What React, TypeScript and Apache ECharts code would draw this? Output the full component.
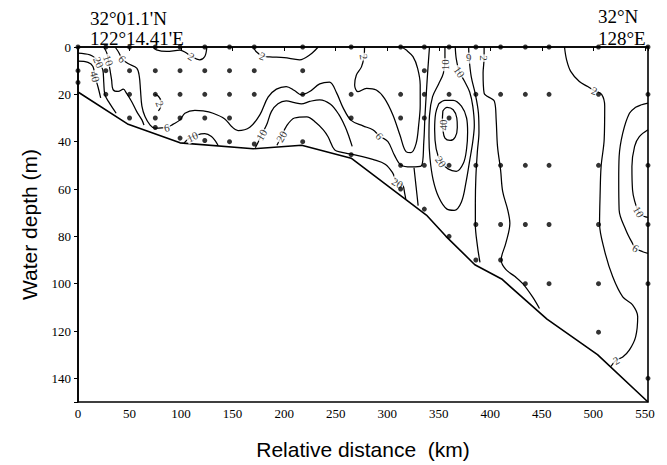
import React, { useEffect, useRef } from "react";
import * as echarts from "echarts";

// ---- axis extents / tick labels ----
const X_MAX = 553;
const Y_MAX = 150;
const xTickLabels = ["0", "50", "100", "150", "200", "250", "300", "350", "400", "450", "500", "550"];
const yTickLabels = ["0", "20", "40", "60", "80", "100", "120", "140"];

// ---- annotations ----
const westNote = ["32°01.1'N", "122°14.41'E"];
const eastNote = ["32°N", "128°E"];

// ---- sampling stations (km) and sample depths (m) ----
const stationKm = [0, 27, 50, 75, 99, 123, 147, 171, 218, 265, 313, 336, 360, 386, 410, 434, 457, 505, 553];
const stationDepths = [
  [0, 10, 15],
  [0, 10, 20],
  [0, 10, 20, 30],
  [0, 10, 20, 30, 34],
  [0, 10, 20, 30, 38.5],
  [0, 10, 20, 30, 39.5],
  [0, 10, 20, 30, 40],
  [0, 10, 20, 41],
  [0, 10, 20, 40],
  [0, 20, 30, 45.5],
  [0, 20, 30, 50, 60],
  [0, 10, 20, 30, 50, 68.5],
  [0, 20, 30, 50, 80],
  [0, 20, 50, 75, 90],
  [0, 20, 50, 75, 90],
  [0, 20, 50, 75, 100],
  [0, 20, 50, 75, 100],
  [0, 20, 50, 75, 100, 120.5],
  [0, 20, 50, 75, 100, 140],
];

// ---- sea bed ----
const seabedKm = [0, 48, 99, 170, 217, 265, 338, 357, 385, 411, 455, 504, 553];
const seabedDepth = [19, 32.5, 40.5, 43, 41.5, 47, 71, 80, 92, 98, 115, 130, 150];

// ---- contour lines [km, depth] ----
const coast40 = [[0, 6], [9.7, 6.5], [14.5, 8.2], [16.5, 12.5], [19.5, 17], [22, 21.5]];
const coast20 = [[0, 2.6], [11.6, 3.3], [16.5, 4.6], [20, 6.5], [24, 9.6], [25, 15], [26, 20], [29.5, 23], [34, 26], [37, 28]];
const coast10 = [[25, 0], [28, 2.6], [29.5, 5.7], [31, 9.6], [32.6, 13.9], [34, 18], [39, 18.8], [44, 17.8], [47, 19.5], [52, 23], [57, 27.3], [62, 30.8], [64, 33]];
const long6 = [
  [36, 0], [39, 1.9], [43, 5], [48.5, 7], [57, 8.9], [59.5, 12.5], [60.6, 18], [62, 25], [65, 29.4], [70, 33],
  [74.6, 34.3], [86, 34], [92.4, 32.6], [99, 30.8], [103.7, 28], [113.4, 26.8], [121.4, 27], [131, 28],
  [142.4, 30.4], [149, 33.6], [155.3, 35.3], [166.7, 33.9], [176.4, 28.7], [184.4, 21.2], [192.5, 17.8],
  [202, 16.7], [210, 18.4], [216.7, 20.2], [224.8, 18.8], [234.5, 15.6], [244, 14.8], [251, 19.5],
  [257, 25.5], [265, 31], [276.5, 33.3], [286, 35], [292.6, 37.6], [300.7, 40], [307, 45.7], [313.6, 50],
  [323, 50.7], [333, 50.3], [335.5, 40], [336.5, 30.2], [338, 19], [339.5, 9], [341, 0],
];
const top2West = [[73, 0], [76, 1.2], [86, 1.9], [99, 1.3], [104, 2.2], [110, 4], [118, 5.4], [123, 4], [125, 0]];
const small2 = [[74.5, 20], [78, 20.8], [80.5, 23], [80, 25.5], [78, 27]];
const shelf10 = [[103, 40.5], [108, 38.5], [115, 37.2], [123, 36.6], [129.5, 37.8], [134, 40.2], [136, 41.7]];
const top2Mid = [[170, 0], [173, 2], [179, 3.8], [186, 4.2], [200, 4.5], [215, 5.4], [225, 3.3], [233, 0]];
const mid10 = [
  [172, 42.6], [175, 40], [178, 37.1], [183, 32.9], [187.6, 27.3], [194, 24], [202, 22.8], [210, 23.5],
  [216.7, 24], [224.8, 23], [234.5, 22.3], [245, 24.2], [253, 28.5], [259, 33.5], [263, 38], [266, 42],
];
const mid20 = [
  [193, 41.5], [197.4, 37.8], [202, 33.6], [210, 30], [222, 29.5], [231, 32], [238, 35], [242.6, 37.9],
  [249, 43.5], [256, 44.5], [265, 45.3], [276, 46.3], [286, 47.5], [298, 49.5], [305, 53], [310, 57.5],
  [315, 58.2], [317, 62], [318, 64.3],
];
const loop2 = [
  [278, 0], [277.5, 4.1], [275, 8.4], [270, 11.9], [268.4, 16.1], [271.6, 18.9], [280, 17.5], [289.4, 18.2],
  [297.5, 21.8], [305.6, 28.8], [312.4, 37.3], [318.5, 44.3], [323, 44.6], [328, 40.8], [330.5, 33],
  [332, 24.6], [332, 16], [329.5, 9], [325, 4.1], [318.5, 1.3], [313.6, 0],
];
const slope10 = [[326, 51], [328, 59], [330, 67]];
const eddy40 = [[354, 27], [358, 25.5], [364, 26.5], [367.5, 30], [368, 34], [366, 38], [361, 39.5], [356, 38.5], [354, 35], [353.5, 31], [354, 27]];
const eddy20 = [
  [350, 24], [356, 22.5], [364, 22.5], [372, 25], [377, 30], [378, 36], [377, 43], [374, 49], [367, 52.5],
  [359, 51.5], [352, 48.5], [347.5, 43], [346, 35], [347, 28], [350, 24],
];
const eddy10 = [
  [356, 0], [356, 5], [354.5, 11], [350, 15.5], [344, 21], [341, 29], [340.5, 38], [341.5, 47], [344.5, 56],
  [350, 63.5], [358, 68.5], [365, 69], [372, 65.5], [376.5, 57], [380, 48], [383, 40], [384.5, 33],
  [383, 25], [380, 19], [375, 14.5], [370, 10.5], [367, 5], [366, 0],
];
const eddy6 = [
  [379, 0], [379.5, 5], [381.5, 12.5], [385.5, 20], [388.5, 28], [389, 36], [387.5, 44], [386, 55],
  [385.5, 66], [385.5, 75], [387.5, 84], [390, 91],
];
const east2a = [
  [394, 0], [394, 4.7], [393, 11], [394, 19.5], [404, 23], [405.7, 30.8], [407, 42], [410, 52], [412, 61],
  [417, 69], [419, 74.5], [415, 83], [410.5, 90], [415, 94], [424, 97], [431.5, 100], [441, 105.6], [447.7, 110.5],
];
const east2b = [
  [472, 0], [474, 5.4], [478, 10.3], [486.4, 14.6], [494.5, 16.7], [501, 18.5], [508, 20], [511, 25],
  [510.5, 39], [507.5, 50.5], [506.5, 63], [506, 74.5], [510.7, 85.8], [518.7, 97], [528.5, 105.6],
  [538, 109], [543, 114], [541, 122.5], [535, 128], [528.5, 131], [522, 132.4], [517, 135],
];
const wall6 = [
  [553, 23.7], [546, 24.5], [541, 25.5], [535, 28], [528.5, 36.4], [525, 46.3], [524.6, 56.2], [525, 68.9],
  [531.6, 77.4], [538, 83], [541, 85], [547.8, 86.5], [553, 87.2],
];
const wall10 = [[553, 35], [544.6, 37.9], [540, 42], [537.4, 50.5], [538, 60.4], [540, 65], [544, 69.6], [549, 71.5], [553, 72]];

// ---- contour labels [km, depth, text] ----
const contourLabels: [number, number, string][] = [
  [16.5, 12.5, "40"], [20, 6.5, "20"], [29.5, 5.7, "10"], [43, 5, "6"], [110, 4, "2"], [79.5, 24, "2"],
  [86, 34, "6"], [111, 37.9, "10"], [179, 3.8, "2"], [178, 37.1, "10"], [197.4, 37.8, "20"],
  [277.5, 4.1, "2"], [292.6, 37.6, "6"], [310, 57.5, "20"], [355.6, 7.5, "10"], [370, 10.5, "10"],
  [379, 4.7, "6"], [394, 4.7, "2"], [354.5, 33, "40"], [352, 48.5, "20"], [501, 18.5, "2"],
  [544, 69.6, "10"], [541, 85, "6"], [522, 132.4, "2"],
];
const contourLabelAngles = [-75, -65, -70, -45, -30, -70, 10, 25, -20, 60, 60, -80, -50, -30, 90, -55, 180, -90, 90, -55, -20, -60, -30, 30];

export default function App() {
  const ref = useRef<HTMLDivElement>(null);

  useEffect(() => {
    const chart = echarts.init(ref.current!, null, { renderer: "svg" });
    const contours = [
      coast40, coast20, coast10, long6, top2West, small2, shelf10, top2Mid, mid10, mid20, loop2, slope10,
      eddy40, eddy20, eddy10, eddy6, east2a, east2b, wall6, wall10,
    ];
    const stationPoints = stationKm.flatMap((km, i) => stationDepths[i].map((d) => [km, d]));
    const seabed = seabedKm.map((km, i) => [km, seabedDepth[i]]);
    const serif = "Liberation Serif";
    const sans = "Liberation Sans";

    const noteText = (text: string, x: number, y: number) => ({
      type: "text",
      x,
      y,
      silent: true,
      style: {
        text,
        x: 0,
        y: 0,
        font: `19px "${serif}"`,
        fill: "#000",
        textAlign: "left",
        textVerticalAlign: "middle",
        verticalAlign: "middle",
      },
    });

    chart.setOption({
      animation: false,
      backgroundColor: "#fff",
      grid: { left: 78, right: 19, top: 47, bottom: 63, show: true, borderColor: "#000", borderWidth: 1.6 },
      xAxis: {
        type: "value",
        min: 0,
        max: X_MAX,
        interval: 50,
        name: "Relative distance  (km)",
        nameLocation: "middle",
        nameGap: 37,
        nameTextStyle: { fontFamily: sans, fontSize: 21, color: "#000" },
        axisLine: { show: true, lineStyle: { color: "#000", width: 1.6 } },
        axisTick: { show: true, length: 4, lineStyle: { color: "#000", width: 1 } },
        axisLabel: {
          fontFamily: serif,
          fontSize: 13,
          color: "#000",
          margin: 5,
          formatter: (v: number) => (xTickLabels.includes(String(v)) ? String(v) : ""),
        },
        splitLine: { show: false },
      },
      yAxis: {
        type: "value",
        inverse: true,
        min: 0,
        max: Y_MAX,
        interval: 20,
        name: "Water depth (m)",
        nameLocation: "middle",
        nameGap: 38,
        nameRotate: 90,
        nameTextStyle: { fontFamily: sans, fontSize: 21, color: "#000" },
        axisLine: { show: true, lineStyle: { color: "#000", width: 1.6 } },
        axisTick: { show: true, length: 4, lineStyle: { color: "#000", width: 1 } },
        axisLabel: {
          fontFamily: serif,
          fontSize: 13,
          color: "#000",
          margin: 7,
          formatter: (v: number) => (yTickLabels.includes(String(v)) ? String(v) : ""),
        },
        splitLine: { show: false },
      },
      graphic: [
        noteText(westNote[0], 90, 18.5),
        noteText(westNote[1], 90, 38.5),
        noteText(eastNote[0], 598, 16.5),
        noteText(eastNote[1], 598, 38.5),
      ],
      series: [
        ...contours.map((c) => ({
          type: "line",
          data: c,
          smooth: 0.35,
          symbol: "none",
          silent: true,
          lineStyle: { color: "#000", width: 1.25 },
          z: 2,
        })),
        {
          type: "line",
          data: seabed,
          symbol: "none",
          silent: true,
          lineStyle: { color: "#000", width: 1.6 },
          z: 2,
        },
        {
          type: "scatter",
          data: contourLabels.map((l, i) => ({
            name: l[2],
            value: [l[0], l[1]],
            label: { rotate: contourLabelAngles[i] },
          })),
          symbolSize: 1,
          silent: true,
          itemStyle: { color: "rgba(0,0,0,0)" },
          label: {
            show: true,
            position: "inside",
            formatter: "{b}",
            fontFamily: serif,
            fontSize: 11,
            color: "#000",
            backgroundColor: "#fff",
            padding: [0, 1],
          },
          z: 3,
        },
        {
          type: "scatter",
          data: stationPoints,
          symbolSize: 5,
          silent: true,
          itemStyle: { color: "#000" },
          z: 4,
        },
      ],
    });
    return () => chart.dispose();
  }, []);

  return (
    <div
      ref={ref}
      style={{ position: "fixed", left: 0, top: 0, width: 667, height: 465, background: "#fff" }}
    />
  );
}
